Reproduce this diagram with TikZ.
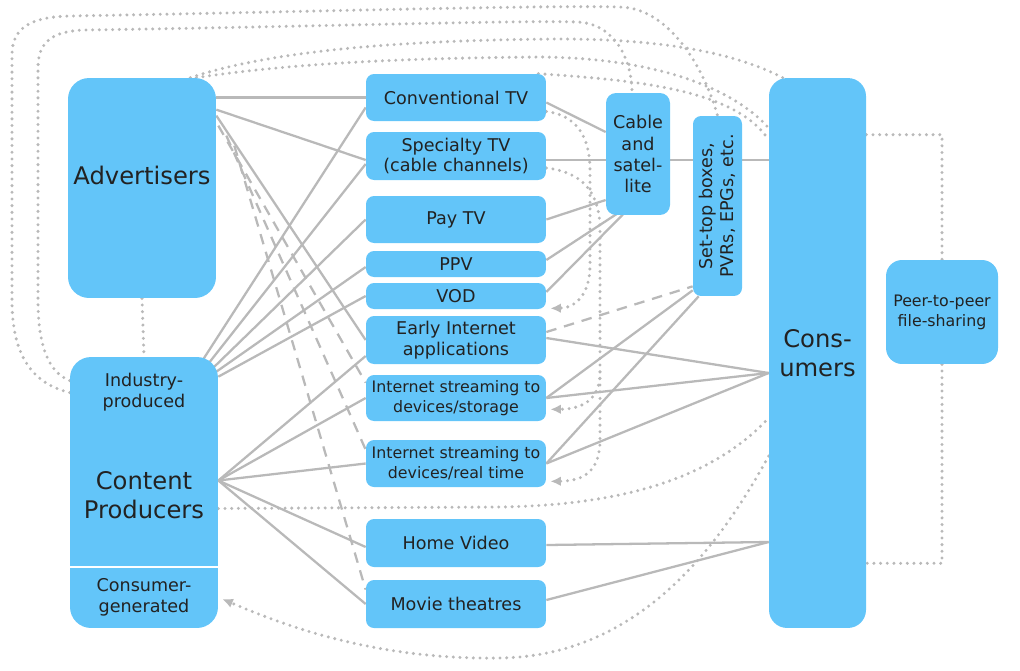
\documentclass[tikz,border=0pt]{standalone}
\usepackage{fontspec}
\setmainfont{DejaVu Sans}
\usepackage{tikz}
\usetikzlibrary{calc,arrows.meta,backgrounds}

\definecolor{boxblue}{RGB}{99,197,249}
\definecolor{linegray}{RGB}{185,185,185}
\definecolor{inkgray}{RGB}{34,34,34}

\newcommand{\fbig}{\fontsize{13.8}{16.5}\selectfont}
\newcommand{\fmid}{\fontsize{10}{11.8}\selectfont}
\newcommand{\fsmall}{\fontsize{9}{11.3}\selectfont}

\tikzset{
  box/.style={fill=boxblue, rounded corners=0.16cm, inner sep=0pt, align=center, text=inkgray, font=\fmid},
  bigbox/.style={box, rounded corners=0.42cm},
  chan/.style={box, minimum width=3.6cm},
  txt/.style={inner sep=0pt, align=center, text=inkgray},
  link/.style={draw=linegray, line width=1.3pt},
  dashline/.style={link, dash pattern=on 6pt off 4.5pt},
  dotline/.style={draw=linegray, line width=1.9pt, line cap=round, dash pattern=on 0pt off 3.8pt},
  arrowin/.style={-{Latex[length=6pt,width=5.5pt]}}
}

\begin{document}
\begin{tikzpicture}[x=0.02cm, y=-0.02cm]
    \useasboundingbox (0,0) rectangle (1020,670);
    %actors
    \node[bigbox, minimum width=2.96cm, minimum height=4.4cm] (adv) at (142,188) {};
    \node[txt, font=\fbig] (advtext) at (142,175) {Advertisers};
    \node[bigbox, minimum width=2.96cm, minimum height=5.42cm] (cp) at (144,492.5) {};
    \node[txt, font=\fmid] (ind) at (144,392) {Industry-\\produced};
    \node[txt, font=\fbig] (cpname) at (144,495) {Content\\Producers};
    \node[txt, font=\fmid] (cgen) at (144,597) {Consumer-\\generated};
    \draw[white, line width=1.6pt] ($(cp.west)+(0,74.5)$) -- ($(cp.east)+(0,74.5)$);
    \node[bigbox, rounded corners=0.36cm, minimum width=1.94cm, minimum height=11cm, font=\fbig] (cons) at (817.5,353) {Cons-\\umers};
    \node[bigbox, rounded corners=0.32cm, minimum width=2.24cm, minimum height=2.08cm, font=\fsmall] (p2p) at (942,312) {Peer-to-peer\\file-sharing};
    %channels
    \node[chan, minimum height=0.94cm] (conv) at (456,97.5) {Conventional TV};
    \node[chan, minimum height=0.96cm] (spec) at (456,156) {Specialty TV\\(cable channels)};
    \node[chan, minimum height=0.94cm] (pay) at (456,219.5) {Pay TV};
    \node[chan, minimum height=0.52cm] (ppv) at (456,264) {PPV};
    \node[chan, minimum height=0.52cm] (vod) at (456,296) {VOD};
    \node[chan, minimum height=0.96cm] (early) at (456,340) {Early Internet\\applications};
    \node[chan, minimum height=0.92cm, font=\fsmall] (stor) at (456,398) {Internet streaming to\\devices/storage};
    \node[chan, minimum height=0.94cm, font=\fsmall] (real) at (456,463.5) {Internet streaming to\\devices/real time};
    \node[chan, minimum height=0.96cm] (home) at (456,543) {Home Video};
    \node[chan, minimum height=0.96cm] (movie) at (456,604) {Movie theatres};
    \node[box, rounded corners=0.2cm, minimum width=1.28cm, minimum height=2.44cm, font=\fontsize{10}{12}\selectfont] (cable) at (638,154) {Cable\\and\\satel-\\lite};
    \node[box, rotate=90, minimum width=3.6cm, minimum height=0.98cm] (stb) at (717.5,206) {Set-top boxes,\\PVRs, EPGs, etc.};

    \begin{scope}[on background layer]
    %solid edges
    \draw[link] (adv.east |- conv.west) -- (conv.west);
    \path[link] ($(adv.north east)+(0,32)$) edge ($(spec.west)+(0,4)$)
                ($(adv.north east)+(0,38)$) edge (early.west);
    \path[link] ($(cp.north east)+(-16,4)$) edge ($(conv.west)+(0,10)$)
                ($(cp.north east)+(-10,7)$) edge ($(spec.west)+(0,8)$)
                ($(cp.north east)+(-5,11)$) edge (pay.west)
                ($(cp.north east)+(-2,15)$) edge ($(ppv.west)+(0,3)$)
                ($(cp.north east)+(0,20)$) edge (vod.west);
    \coordinate (cpout) at ($(cp.east)+(0,-12)$);
    \path[link] (cpout) edge ($(early.west)+(0,16)$) edge (stor.west) edge (real.west)
                edge ($(home.west)+(0,4)$) edge (movie.west);
    \path[link] ($(conv.east)+(0,5)$) edge ($(cable.west)+(0,-22)$)
                (pay.east) edge ($(cable.west)+(0,46)$)
                ($(ppv.east)+(0,-4)$) edge ($(cable.south west)+(12,-2)$)
                ($(vod.east)+(0,-4)$) edge ($(cable.south)+(-14,-2)$);
    \coordinate (sp) at ($(spec.east)+(0,4)$);
    \draw[link] (sp) -- (sp -| cons.west);
    \coordinate (cin) at ($(cons.west)+(0,20)$);
    \path[link] (cin) edge ($(early.east)+(0,-2)$) edge (stor.east) edge (real.east);
    \path[link] (stor.east) edge ($(stb.north west)+(0,-6)$)
                (real.east) edge ($(stb.north west)+(6,0)$);
    \coordinate (cin2) at ($(cons.west)+(0,189)$);
    \path[link] (cin2) edge ($(home.east)+(0,2)$) edge ($(movie.east)+(0,-4)$);
    %dashed edges
    \path[dashline] ($(adv.north east)+(2,48)$) edge ($(stor.north west)+(0,8)$)
                    ($(adv.north east)+(10,58)$) edge ($(real.north west)+(0,10)$)
                    ($(adv.north east)+(18,68)$) edge ($(movie.north west)+(0,10)$);
    \draw[dashline] ($(early.east)+(0,-8)$) -- ($(stb.north west)+(0,-10)$);
    %dotted edges
    \draw[dotline] (adv.south) -- (cp.north);
    \draw[dotline] ($(cp.west)+(0,-100)$) .. controls (25,382) and (12,345) .. (12,300) -- (12,55)
        .. controls (12,28) and (30,17) .. (70,16) .. controls (300,12) and (540,5) .. (620,7)
        .. controls (670,8) and (705,70) .. (stb.east);
    \draw[dotline] ($(cp.west)+(0,-112)$) .. controls (48,372) and (38,345) .. (38,300) -- (38,68)
        .. controls (38,42) and (52,31) .. (85,30) .. controls (300,27) and (520,20) .. (578,22)
        .. controls (615,24) and (632,60) .. ($(cable.north)+(-6,0)$);
    \draw[dotline] ($(adv.north east)+(-26,0)$) .. controls (280,48) and (420,40) .. (560,39)
        .. controls (680,39) and (745,58) .. ($(cons.north west)+(14,0)$);
    \draw[dotline] ($(adv.north east)+(-20,0)$) .. controls (300,62) and (420,58) .. (540,57)
        .. controls (660,58) and (735,90) .. ($(cons.west)+(0,-225)$);
    \draw[dotline] ($(conv.north east)+(-8,0)$) .. controls (630,80) and (735,88) .. ($(cons.west)+(0,-213)$);
    \draw[dotline,arrowin] ($(conv.east)+(0,14)$) .. controls (575,115) and (590,135) .. (590,170) -- (590,265)
        .. controls (590,295) and (575,308) .. ($(vod.south east)+(4,-1)$);
    \draw[dotline,arrowin] ($(spec.east)+(0,12)$) .. controls (582,172) and (600,192) .. (600,230)
        -- (600,372) coordinate (br) -- (600,440) .. controls (600,470) and (585,481) .. ($(real.south east)+(4,-6)$);
    \draw[dotline,arrowin] (br) .. controls (600,398) and (585,409) .. ($(stor.south east)+(4,-12)$);
    \draw[dotline] ($(cp.east)+(0,16)$) -- (500,507) .. controls (640,505) and (720,470) .. ($(cons.west)+(0,65)$);
    \draw[dotline,arrowin] ($(cons.west)+(0,103)$) .. controls (720,545) and (640,656) .. (500,658)
        .. controls (380,660) and (290,628) .. ($(cp.east |- cgen.east)+(4,2)$);
    \draw[dotline] ($(cons.north east)+(0,57)$) -| (p2p.north);
    \draw[dotline] (p2p.south) |- ($(cons.south east)+(0,-65)$);
    \end{scope}
\end{tikzpicture}
\end{document}
